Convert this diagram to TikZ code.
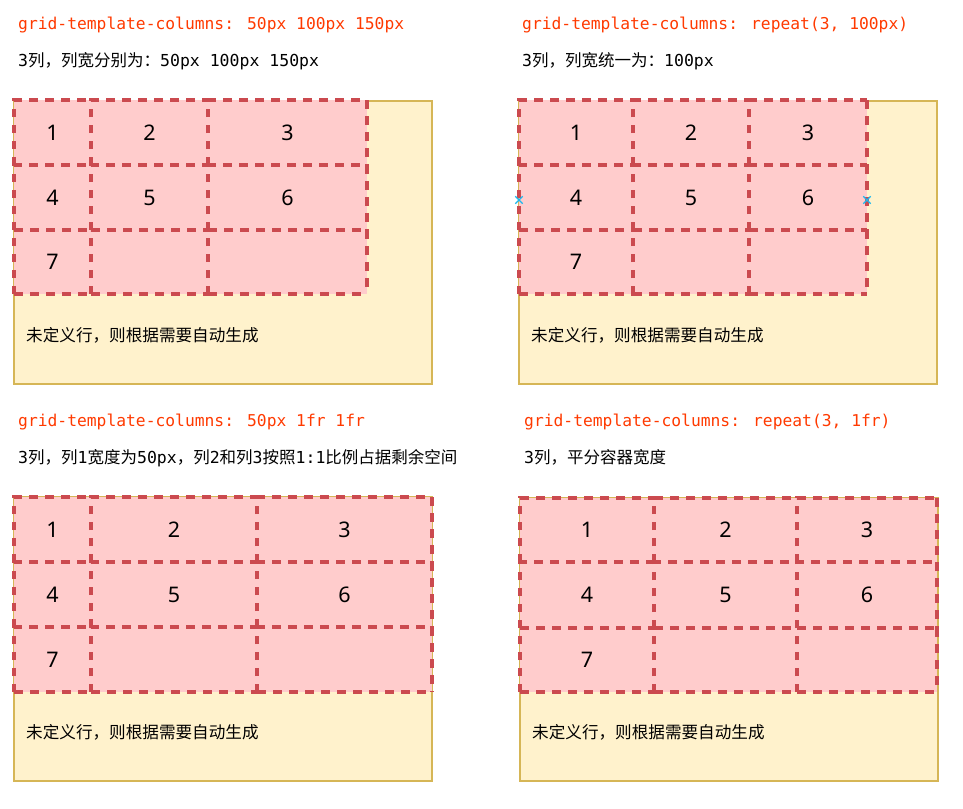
\documentclass[tikz,border=0pt]{standalone}
\usepackage{fontspec}
\usetikzlibrary{shapes.misc}
\newfontfamily\monof{DejaVu Sans Mono}
\newfontfamily\cjk{Noto Sans CJK SC}
\newfontfamily\numf{Noto Sans}
\definecolor{titlered}{HTML}{FF3A00}
\definecolor{cellfill}{HTML}{FFCCCC}
\definecolor{celldraw}{HTML}{CB4A4F}
\definecolor{boxfill}{HTML}{FFF2CC}
\definecolor{boxdraw}{HTML}{D6B656}
\definecolor{markblue}{HTML}{1AB8F0}
\newcommand\M[1]{{\monof #1}}
\newcommand\gcell[6]{%
  \pgfmathsetmacro\cw{#3-#2}\pgfmathsetmacro\ch{#5-#4}%
  \node[cellbox, minimum width=\cw pt, minimum height=\ch pt] (#1) at ({(#2+#3)/2},{(#4+#5)/2}) {#6};
  \draw[gridline] (#1.south west) -- (#1.north west) -- (#1.north east);}
\tikzset{
  cellbox/.style={rectangle, inner sep=0pt, outer sep=0pt, draw=none, font=\numf\fontsize{21.5}{24}\selectfont},
  gridline/.style={draw=celldraw, line width=3.4pt, dash pattern=on 8.5pt off 7.5pt},
  container/.style={fill=boxfill, draw=boxdraw, line width=1.5pt},
  gridbg/.style={fill=cellfill, draw=none},
  titletext/.style={anchor=base west, inner sep=0pt, text=titlered, font=\monof\fontsize{16.3}{20}\selectfont},
  subtext/.style={anchor=base west, inner sep=0pt, text=black, font=\cjk\fontsize{16.5}{20}\selectfont},
  notetext/.style={anchor=base west, inner sep=0pt, text=black, font=\cjk\fontsize{16.6}{20}\selectfont},
  xmark/.style={cross out, draw=markblue, line width=1.3pt, minimum size=6pt, inner sep=0pt}
}
\begin{document}
\begin{tikzpicture}[x=1pt,y=-1pt]
\useasboundingbox (0,0) rectangle (963,808);
\fill[white] (0,0) rectangle (963,808);

% ---------- Panel 1 ----------
\node[titletext] (t1) at (18,29.5) {grid-template-columns: 50px 100px 150px};
\node[subtext] (s1) at (18,66.5) {\M{3}列，列宽分别为：\M{50px 100px 150px}};
\draw[container] (14,101) rectangle (432,384);
\fill[gridbg] (14,100) rectangle (367,294);
\gcell{p1a}{14}{91}{100}{165}{1}
\gcell{p1b}{91}{208}{100}{165}{2}
\gcell{p1c}{208}{367}{100}{165}{3}
\gcell{p1d}{14}{91}{165}{230}{4}
\gcell{p1e}{91}{208}{165}{230}{5}
\gcell{p1f}{208}{367}{165}{230}{6}
\gcell{p1g}{14}{91}{230}{294}{7}
\gcell{p1h}{91}{208}{230}{294}{}
\gcell{p1i}{208}{367}{230}{294}{}
\draw[gridline] (p1c.north east) -- (p1c.south east);
\draw[gridline] (p1f.north east) -- (p1f.south east);
\draw[gridline] (p1i.north east) -- (p1i.south east);
\draw[gridline] (p1g.south west) -- (p1g.south east);
\draw[gridline] (p1h.south west) -- (p1h.south east);
\draw[gridline] (p1i.south west) -- (p1i.south east);
\node[notetext] (n1) at (26,341) {未定义行，则根据需要自动生成};

% ---------- Panel 2 ----------
\node[titletext] (t2) at (522,29.5) {grid-template-columns: repeat(3, 100px)};
\node[subtext] (s2) at (522,66.5) {\M{3}列，列宽统一为：\M{100px}};
\draw[container] (519,101) rectangle (937,384);
\fill[gridbg] (519,100) rectangle (867,294);
\gcell{p2a}{519}{633}{100}{165}{1}
\gcell{p2b}{633}{749}{100}{165}{2}
\gcell{p2c}{749}{867}{100}{165}{3}
\gcell{p2d}{519}{633}{165}{230}{4}
\gcell{p2e}{633}{749}{165}{230}{5}
\gcell{p2f}{749}{867}{165}{230}{6}
\gcell{p2g}{519}{633}{230}{294}{7}
\gcell{p2h}{633}{749}{230}{294}{}
\gcell{p2i}{749}{867}{230}{294}{}
\draw[gridline] (p2c.north east) -- (p2c.south east);
\draw[gridline] (p2f.north east) -- (p2f.south east);
\draw[gridline] (p2i.north east) -- (p2i.south east);
\draw[gridline] (p2g.south west) -- (p2g.south east);
\draw[gridline] (p2h.south west) -- (p2h.south east);
\draw[gridline] (p2i.south west) -- (p2i.south east);
\node[xmark] (m1) at (519,200) {};
\node[xmark] (m2) at (867,200) {};
\node[notetext] (n2) at (531,341) {未定义行，则根据需要自动生成};

% ---------- Panel 3 ----------
\node[titletext] (t3) at (18,426) {grid-template-columns: 50px 1fr 1fr};
\node[subtext] (s3) at (18,463.5) {\M{3}列，列\M{1}宽度为\M{50px}，列\M{2}和列\M{3}按照\M{1:1}比例占据剩余空间};
\draw[container] (14,497) rectangle (432,781);
\fill[gridbg] (14,497) rectangle (432,692);
\gcell{p3a}{14}{91}{497}{562}{1}
\gcell{p3b}{91}{257}{497}{562}{2}
\gcell{p3c}{257}{432}{497}{562}{3}
\gcell{p3d}{14}{91}{562}{627}{4}
\gcell{p3e}{91}{257}{562}{627}{5}
\gcell{p3f}{257}{432}{562}{627}{6}
\gcell{p3g}{14}{91}{627}{692}{7}
\gcell{p3h}{91}{257}{627}{692}{}
\gcell{p3i}{257}{432}{627}{692}{}
\draw[gridline] (p3c.north east) -- (p3c.south east);
\draw[gridline] (p3f.north east) -- (p3f.south east);
\draw[gridline] (p3i.north east) -- (p3i.south east);
\draw[gridline] (p3g.south west) -- (p3g.south east);
\draw[gridline] (p3h.south west) -- (p3h.south east);
\draw[gridline] (p3i.south west) -- (p3i.south east);
\node[notetext] (n3) at (26,738) {未定义行，则根据需要自动生成};

% ---------- Panel 4 ----------
\node[titletext] (t4) at (524,426) {grid-template-columns: repeat(3, 1fr)};
\node[subtext] (s4) at (524,463.5) {\M{3}列，平分容器宽度};
\draw[container] (520,498) rectangle (938,781);
\fill[gridbg] (520,498) rectangle (937,692);
\gcell{p4a}{520}{654}{498}{562}{1}
\gcell{p4b}{654}{797}{498}{562}{2}
\gcell{p4c}{797}{937}{498}{562}{3}
\gcell{p4d}{520}{654}{562}{628}{4}
\gcell{p4e}{654}{797}{562}{628}{5}
\gcell{p4f}{797}{937}{562}{628}{6}
\gcell{p4g}{520}{654}{628}{692}{7}
\gcell{p4h}{654}{797}{628}{692}{}
\gcell{p4i}{797}{937}{628}{692}{}
\draw[gridline] (p4c.north east) -- (p4c.south east);
\draw[gridline] (p4f.north east) -- (p4f.south east);
\draw[gridline] (p4i.north east) -- (p4i.south east);
\draw[gridline] (p4g.south west) -- (p4g.south east);
\draw[gridline] (p4h.south west) -- (p4h.south east);
\draw[gridline] (p4i.south west) -- (p4i.south east);
\node[notetext] (n4) at (532,738) {未定义行，则根据需要自动生成};
\end{tikzpicture}
\end{document}
